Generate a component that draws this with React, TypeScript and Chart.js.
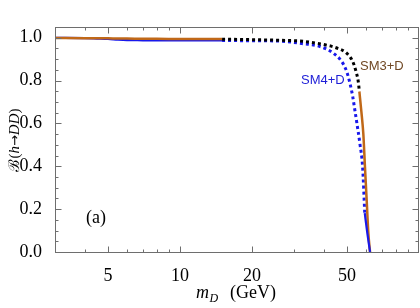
import React, { useEffect, useRef } from "react";
import { Chart, registerables } from "chart.js";

Chart.register(...registerables);

// ---- data ----
const leftX = [3, 4, 4.5, 5, 5.5, 6, 7, 8, 10, 12, 15];
const sm3LeftY = [0.999, 0.998, 0.997, 0.997, 0.996, 0.996, 0.995, 0.995, 0.994, 0.994, 0.994];
const sm4LeftY = [0.999, 0.998, 0.996, 0.994, 0.991, 0.989, 0.988, 0.987, 0.987, 0.987, 0.987];

const sm3DotX = [15, 20, 26, 32.8, 40.4, 45.3, 49.8, 52.8, 54.5, 55.7, 56.3];
const sm3DotY = [0.993, 0.991, 0.988, 0.983, 0.967, 0.952, 0.928, 0.889, 0.843, 0.796, 0.749];

const sm3DropX = [56.3, 57.4, 58.5, 59.4, 60.4, 61.4, 62.4];
const sm3DropY = [0.749, 0.655, 0.55, 0.4, 0.243, 0.087, 0];

const sm4DotX = [15, 20, 26.2, 32.8, 38.5, 43.8, 47.5, 49.8, 51.4, 52.8, 53.6, 54.9, 56.6, 58.1, 59.3];
const sm4DotY = [0.987, 0.986, 0.984, 0.972, 0.959, 0.928, 0.889, 0.843, 0.788, 0.726, 0.68, 0.605, 0.505, 0.395, 0.181];

const sm4DropX = [59.3, 60.8, 62.4];
const sm4DropY = [0.181, 0.087, 0];

const xMajorTicks = [5, 10, 20, 50];
const xMinorTicks = [3, 4, 6, 7, 8, 9, 30, 40, 60, 70, 80, 90];
const yMajorTicks = [0, 0.2, 0.4, 0.6, 0.8, 1.0];
const yMinorTicks = [0.05, 0.1, 0.15, 0.25, 0.3, 0.35, 0.45, 0.5, 0.55, 0.65, 0.7, 0.75, 0.85, 0.9, 0.95];

const ORANGE = "rgb(192,104,24)";
const BLUE = "rgb(24,24,235)";

const pts = (xs: number[], ys: number[]) => xs.map((x, i) => ({ x, y: ys[i] }));

const decorPlugin = {
  id: "decor",
  afterDatasetsDraw(chart: any) {
    const { ctx, chartArea, scales } = chart;
    const { left, right, top, bottom } = chartArea;
    const xs = scales.x;
    const ys = scales.y;
    ctx.save();
    // frame
    ctx.strokeStyle = "#6e6e6e";
    ctx.lineWidth = 1;
    const L = Math.round(left) + 0.5;
    const R = Math.round(right) - 0.5;
    const T = Math.round(top) + 0.5;
    const B = Math.round(bottom) + 0.5;
    ctx.strokeRect(L, T, R - L, B - T);
    ctx.beginPath();
    const xt = (v: number, len: number) => {
      const p = Math.round(xs.getPixelForValue(v)) + 0.5;
      ctx.moveTo(p, B);
      ctx.lineTo(p, B - len);
      ctx.moveTo(p, T);
      ctx.lineTo(p, T + len);
    };
    const yt = (v: number, len: number) => {
      const p = Math.round(ys.getPixelForValue(v)) + 0.5;
      ctx.moveTo(L, p);
      ctx.lineTo(L + len, p);
      ctx.moveTo(R, p);
      ctx.lineTo(R - len, p);
    };
    xMajorTicks.forEach((v) => xt(v, 6));
    xMinorTicks.forEach((v) => xt(v, 3));
    yMajorTicks.forEach((v) => yt(v, 6));
    yMinorTicks.forEach((v) => yt(v, 3));
    ctx.stroke();

    // curve labels
    ctx.textBaseline = "middle";
    ctx.textAlign = "left";
    ctx.font = "13px 'Liberation Sans', Arial, sans-serif";
    ctx.fillStyle = "rgb(112,72,36)";
    ctx.fillText("SM3+D", 360, 66);
    ctx.fillStyle = "rgb(30,30,215)";
    ctx.fillText("SM4+D", 301, 80);

    // panel label
    ctx.fillStyle = "#000";
    ctx.font = "18px 'Liberation Serif', serif";
    ctx.textAlign = "center";
    ctx.fillText("(a)", 96, 218);

    // x title
    ctx.textAlign = "left";
    ctx.textBaseline = "alphabetic";
    ctx.font = "italic 18px 'Liberation Serif', serif";
    ctx.fillText("m", 196, 298);
    const mw = ctx.measureText("m").width;
    ctx.font = "italic 12px 'Liberation Serif', serif";
    ctx.fillText("D", 196 + mw + 0.5, 302);
    ctx.font = "18px 'Liberation Serif', serif";
    ctx.fillText("(GeV)", 230, 298);

    // y title (rotated)
    const segs: [string, string][] = [
      ["\u212C", "15px 'DejaVu Serif', serif"],
      ["(", "15px 'Liberation Serif', serif"],
      ["h", "italic 15px 'Liberation Serif', serif"],
      ["\u2192", "13px 'DejaVu Sans', sans-serif"],
      ["DD", "italic 15px 'Liberation Serif', serif"],
      [")", "15px 'Liberation Serif', serif"],
    ];
    let total = 0;
    const widths = segs.map(([t, f]) => {
      ctx.font = f;
      const w = ctx.measureText(t).width;
      total += w;
      return w;
    });
    ctx.translate(19, 140);
    ctx.rotate(-Math.PI / 2);
    let u = -total / 2;
    segs.forEach(([t, f], i) => {
      ctx.font = f;
      ctx.fillText(t, u, 0);
      u += widths[i];
    });
    ctx.restore();
  },
};

export default function App() {
  const ref = useRef<HTMLCanvasElement | null>(null);
  useEffect(() => {
    document.body.style.margin = "0";
    const canvas = ref.current;
    if (!canvas) return;
    const tickFont = { family: "'Liberation Serif', serif", size: 18 };
    const chart = new Chart(canvas, {
      type: "line",
      data: {
        datasets: [
          { data: pts(sm4DropX, sm4DropY), borderColor: BLUE, borderWidth: 2.2 },
          { data: pts(leftX, sm3LeftY), borderColor: ORANGE, borderWidth: 2.5 },
          { data: pts(sm3DropX, sm3DropY), borderColor: ORANGE, borderWidth: 2.5 },
          { data: pts(sm3DotX, sm3DotY), borderColor: "#000", borderWidth: 3, borderDash: [3, 3] },
          { data: pts(sm4DotX, sm4DotY), borderColor: BLUE, borderWidth: 3, borderDash: [3, 3] },
          { data: pts(leftX, sm4LeftY), borderColor: BLUE, borderWidth: 2.2 },
        ].map((d) => ({
          ...d,
          pointRadius: 0,
          fill: false,
          cubicInterpolationMode: "monotone" as const,
          borderCapStyle: "butt" as const,
        })),
      },
      options: {
        animation: false,
        responsive: false,
        devicePixelRatio: 1,
        layout: { padding: { top: 27, right: 1, left: 0, bottom: 0 } },
        plugins: { legend: { display: false }, tooltip: { enabled: false } },
        scales: {
          x: {
            type: "logarithmic",
            min: 3,
            max: 100,
            grid: { display: false },
            border: { display: false },
            afterBuildTicks: (s: any) => {
              s.ticks = xMajorTicks.map((v) => ({ value: v }));
            },
            afterFit: (s: any) => {
              s.height = 56;
            },
            ticks: {
              autoSkip: false,
              maxRotation: 0,
              padding: 5,
              color: "#000",
              font: tickFont,
              callback: (v: any) => String(v),
            },
          },
          y: {
            type: "linear",
            min: 0,
            max: 1.05,
            grid: { display: false },
            border: { display: false },
            afterBuildTicks: (s: any) => {
              s.ticks = yMajorTicks.map((v) => ({ value: v }));
            },
            afterFit: (s: any) => {
              s.width = 55;
            },
            ticks: {
              autoSkip: false,
              padding: 5,
              color: "#000",
              font: tickFont,
              callback: (v: any) => Number(v).toFixed(1),
            },
          },
        },
      },
      plugins: [decorPlugin],
    } as any);
    return () => chart.destroy();
  }, []);
  return (
    <div style={{ width: 420, height: 308 }}>
      <canvas ref={ref} width={420} height={308} style={{ display: "block" }} />
    </div>
  );
}
